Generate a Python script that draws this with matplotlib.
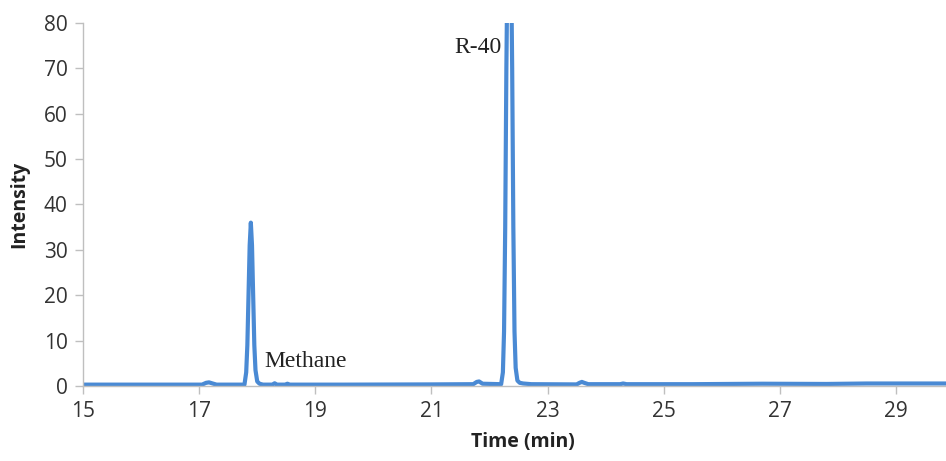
import numpy as np
import matplotlib
matplotlib.use("Agg")
import matplotlib.pyplot as plt

plt.rcParams['font.family'] = ['Open Sans', 'DejaVu Sans']

# chromatogram trace (time in min, intensity)
time = [15.00, 16.20, 17.05, 17.12, 17.17, 17.22, 17.30, 17.78, 17.81, 17.83, 17.85,
        17.87, 17.89, 17.91, 17.93, 17.95, 17.97, 18.00, 18.04, 18.10, 18.26, 18.30,
        18.34, 18.48, 18.52, 18.56, 19.50, 21.00, 21.72, 21.78, 21.82, 21.88,
        22.20, 22.23, 22.25, 22.27, 22.29, 22.31, 22.37, 22.39, 22.41, 22.43,
        22.45, 22.48, 22.52, 22.58, 22.72, 23.50, 23.55, 23.59, 23.63, 23.70,
        24.25, 24.30, 24.36, 25.50, 26.70, 27.80, 28.50, 29.86]
intensity = [0.30, 0.30, 0.30, 0.70, 0.80, 0.60, 0.30, 0.30, 3.0, 9.0, 20.0,
             31.0, 36.0, 31.0, 20.0, 9.0, 3.5, 1.0, 0.5, 0.30, 0.30, 0.60,
             0.30, 0.30, 0.50, 0.30, 0.30, 0.35, 0.40, 0.90, 1.00, 0.50,
             0.40, 3.0, 12.0, 35.0, 70.0, 95.0, 95.0, 70.0, 35.0, 12.0,
             4.0, 1.2, 0.7, 0.55, 0.40, 0.35, 0.70, 0.90, 0.70, 0.40,
             0.40, 0.55, 0.40, 0.40, 0.50, 0.45, 0.55, 0.55]

xticks = [15, 17, 19, 21, 23, 25, 27, 29]
yticks = [0, 10, 20, 30, 40, 50, 60, 70, 80]

fig = plt.figure(figsize=(9.46, 4.61), dpi=100)
ax = fig.add_axes([83 / 946, 75 / 461, 1 - 83 / 946, 363 / 461])

ax.plot(time, intensity, color='#4a8ad4', lw=3.0, solid_joinstyle='round')

ax.set_xlim(15, 29.86)
ax.set_ylim(0, 80)
ax.set_xticks(xticks)
ax.set_yticks(yticks)

for s in ['top', 'right']:
    ax.spines[s].set_visible(False)
for s in ['left', 'bottom']:
    ax.spines[s].set_color('#bfbfbf')
    ax.spines[s].set_linewidth(1.0)

ax.tick_params(axis='both', direction='out', length=6, width=1, color='#bfbfbf',
               labelsize=15, labelcolor='#333333', pad=5)

ax.set_xlabel('Time (min)', fontsize=14, fontweight='bold', color='#222222')
ax.xaxis.set_label_coords(0.51, -0.128)
ax.set_ylabel('Intensity', fontsize=14, fontweight='bold', color='#222222')
ax.yaxis.set_label_coords(-0.062, 0.5)

ax.text(18.12, 5.3, 'Methane', family='Liberation Serif', fontsize=17,
        color='#222222', va='center', ha='left')
ax.text(21.40, 74.5, 'R-40', family='Liberation Serif', fontsize=17,
        color='#222222', va='center', ha='left')

fig.savefig('out.png', dpi=100)
